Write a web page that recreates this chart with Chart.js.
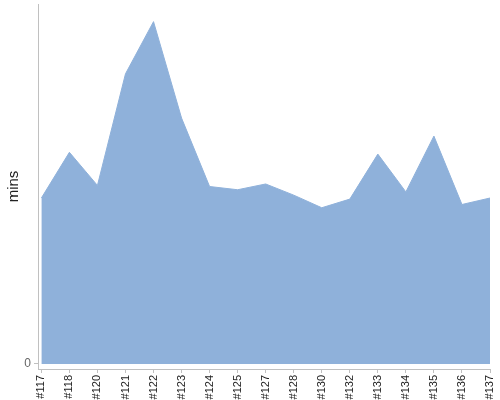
<!DOCTYPE html>
<html>
<head>
<meta charset="utf-8">
<script src="https://cdn.jsdelivr.net/npm/chart.js@4/dist/chart.umd.min.js"></script>
<style>
  html, body { margin: 0; padding: 0; background: #fff; }
  #wrap { width: 500px; height: 400px; }
</style>
</head>
<body>
<div id="wrap"><canvas id="chart"></canvas></div>
<script>
// build numbers along the x axis
const builds = ["#117", "#118", "#120", "#121", "#122", "#123", "#124", "#125", "#127",
                "#128", "#130", "#132", "#133", "#134", "#135", "#136", "#137"];
// duration per build
const durations = [46.1, 58.8, 49.6, 80.6, 95.1, 68.3, 49.3, 48.4, 50.0,
                   46.9, 43.4, 45.8, 58.3, 47.8, 63.3, 44.3, 46.1];
const yTicks = [0];

const points = durations.map((v, i) => ({ x: i, y: v }));

new Chart(document.getElementById("chart"), {
    type: "line",
    data: {
        datasets: [{
            data: points,
            fill: "origin",
            backgroundColor: "#8fb1da",
            borderColor: "#8fb1da",
            borderWidth: 1,
            pointRadius: 0,
            tension: 0
        }]
    },
    options: {
        responsive: true,
        maintainAspectRatio: false,
        animation: false,
        layout: { padding: { top: 4, right: 10, left: 0, bottom: 0 } },
        plugins: { legend: { display: false }, tooltip: { enabled: false } },
        scales: {
            x: {
                type: "linear",
                min: -0.12,
                max: builds.length - 1,
                afterBuildTicks: s => { s.ticks = builds.map((b, i) => ({ value: i })); },
                afterFit: s => { s.height = 31; s.paddingLeft = 0; s.paddingRight = 0; },
                grid: { drawOnChartArea: false, tickLength: 4, color: "#c0c0c0" },
                border: { color: "#c0c0c0" },
                ticks: {
                    autoSkip: false,
                    minRotation: 90,
                    maxRotation: 90,
                    padding: 2,
                    color: "#222",
                    font: { family: "Liberation Sans, Arial, sans-serif", size: 11 },
                    callback: v => builds[v]
                }
            },
            y: {
                min: -1.4,
                max: 100,
                afterBuildTicks: s => { s.ticks = yTicks.map(v => ({ value: v })); },
                afterFit: s => { s.width = 38; s.paddingTop = 0; s.paddingBottom = 0; },
                grid: { drawOnChartArea: false, tickLength: 4, color: "#c0c0c0" },
                border: { color: "#c0c0c0" },
                ticks: {
                    padding: 3,
                    color: "#666",
                    font: { family: "Liberation Sans, Arial, sans-serif", size: 12 }
                },
                title: {
                    display: true,
                    text: "mins",
                    color: "#222",
                    padding: { top: 5, bottom: 0 },
                    font: { family: "Liberation Sans, Arial, sans-serif", size: 15 }
                }
            }
        }
    }
});
</script>
</body>
</html>
